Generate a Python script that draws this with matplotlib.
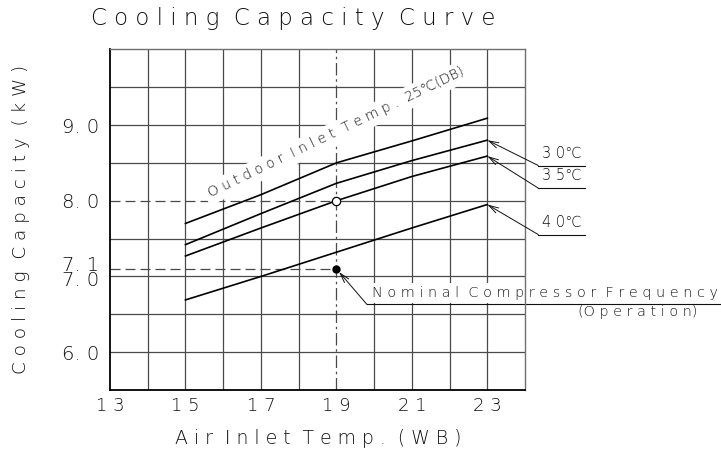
import matplotlib
matplotlib.use("Agg")
import matplotlib.pyplot as plt
import numpy as np

# air inlet wet-bulb temperature (deg C)
inlet_wb = [15, 17, 19, 21, 23]
# cooling capacity (kW) for each outdoor inlet dry-bulb temperature
cap_25 = [7.70, 8.08, 8.50, 8.79, 9.09]
cap_30 = [7.42, 7.83, 8.23, 8.53, 8.80]
cap_35 = [7.27, 7.64, 8.00, 8.32, 8.59]
cap_40 = [6.69, 7.00, 7.32, 7.64, 7.95]

rated_x, rated_y = 19, 8.0      # open circle
nominal_x, nominal_y = 19, 7.1  # filled dot

xtick_vals = [13, 15, 17, 19, 21, 23]
ytick_vals = [6.0, 8.0, 9.0]

INK = "#111111"
GRID = "#4a4a4a"
plt.rcParams["font.family"] = ["DejaVu Sans"]
plt.rcParams["font.weight"] = "light"


def spaced(s):
    """CAD-style letter spacing: one space between letters, two between words."""
    return "  ".join(" ".join(w) for w in s.split(" "))


def ylab(v):
    return f"{v:.1f}".replace(".", ". ")


fig = plt.figure(figsize=(7.21, 4.62), dpi=100)
ax = fig.add_axes([0.1526, 0.1558, 0.5756, 0.7375])
ax.set_xlim(13, 24)
ax.set_ylim(5.5, 10.0)

# grid drawn by hand so the reference lines can be styled separately
dash = (0, (8, 4))
for gx in range(14, 24):
    if gx == rated_x:
        continue
    ax.axvline(gx, color=GRID, lw=0.9, zorder=1)
for gy in np.arange(6.0, 10.0, 0.5):
    if np.isclose(gy, rated_y):
        continue
    ax.axhline(gy, color=GRID, lw=0.9, zorder=1)
ax.axvline(rated_x, color=GRID, lw=0.9, linestyle=(0, (10, 3, 2, 3)), zorder=1)
ax.hlines(rated_y, rated_x, 24, color=GRID, lw=0.9, zorder=1)
ax.hlines(rated_y, 13, rated_x, color=GRID, lw=0.9, linestyles=[dash], zorder=1)
ax.hlines(nominal_y, 13, nominal_x, color=GRID, lw=0.9, linestyles=[dash], zorder=1)

for series in (cap_25, cap_30, cap_35, cap_40):
    ax.plot(inlet_wb, series, color="black", lw=1.2, zorder=3)

ax.plot(rated_x, rated_y, "o", ms=6, mfc="white", mec="black", mew=0.9, zorder=4)
ax.plot(nominal_x, nominal_y, "o", ms=5, color="black", zorder=4)

for side in ("left", "bottom"):
    ax.spines[side].set_color("black")
    ax.spines[side].set_linewidth(1.3)
for side in ("top", "right"):
    ax.spines[side].set_color("#707070")
    ax.spines[side].set_linewidth(1.0)

ax.set_xticks(xtick_vals, [" ".join(str(v)) for v in xtick_vals])
ax.set_yticks(ytick_vals, [ylab(v) for v in ytick_vals])
ax.tick_params(length=0, colors=INK, labelsize=13)
ax.tick_params(axis="x", pad=5)
ax.tick_params(axis="y", pad=8, labelsize=14)
# 7.1 and 7.0 sit almost on top of each other, stacked as one label
ax.annotate(ylab(nominal_y) + "\n" + ylab(7.0), xy=(0, (nominal_y + 7.0) / 2),
            xycoords=("axes fraction", "data"), xytext=(-8, 0), textcoords="offset points",
            ha="right", va="center", fontsize=14, linespacing=0.72, color=INK)

# outdoor temperature label along the top curve
ax.text(19.0, 8.9, spaced("Outdoor Inlet Temp.") + "  25℃(DB)", rotation=25.8,
        rotation_mode="anchor", ha="center", va="center", fontsize=10, color=INK,
        bbox=dict(facecolor="white", edgecolor="none", pad=3), zorder=2)

# leaders to the curve ends
arrow = dict(arrowstyle="->,head_length=0.7,head_width=0.2", lw=0.7, color=INK,
             shrinkA=0, shrinkB=0)
for name, series, y_line in (("30℃", cap_30, 8.465), ("35℃", cap_35, 8.167),
                             ("40℃", cap_40, 7.553)):
    ax.plot([24.35, 25.6], [y_line, y_line], color=INK, lw=0.8, clip_on=False)
    ax.annotate("", xy=(inlet_wb[-1], series[-1]), xytext=(24.35, y_line),
                arrowprops=arrow, annotation_clip=False)
    ax.text(24.98, y_line + 0.16, name[0] + " " + name[1:], ha="center", va="center",
            fontsize=10.5, color=INK, clip_on=False)

# nominal compressor frequency note
ax.plot([19.81, 29.18], [6.63, 6.63], color=INK, lw=0.8, clip_on=False)
ax.annotate("", xy=(nominal_x, nominal_y), xytext=(19.81, 6.63),
            arrowprops=dict(arrow, shrinkB=3), annotation_clip=False)
ax.text(19.94, 6.78, spaced("Nominal Compressor Frequency"), ha="left", va="center",
        fontsize=10.4, color=INK, clip_on=False, zorder=2,
        bbox=dict(facecolor="white", edgecolor="none", pad=2))
ax.text(26.98, 6.53, "(" + spaced("Operation") + ")", ha="center", va="center",
        fontsize=10.4, color=INK, clip_on=False)

fig.text(0.406, 0.961, spaced("Cooling Capacity Curve"), ha="center", va="center",
         fontsize=16.5, color=INK)
fig.text(0.029, 0.524, spaced("Cooling Capacity (kW)"), rotation=90, ha="center",
         va="center", fontsize=13.2, color=INK)
fig.text(0.441, 0.05, spaced("Air Inlet Temp. (WB)"), ha="center", va="center",
         fontsize=13.6, color=INK)

fig.savefig("out.png", dpi=100, facecolor="white")
